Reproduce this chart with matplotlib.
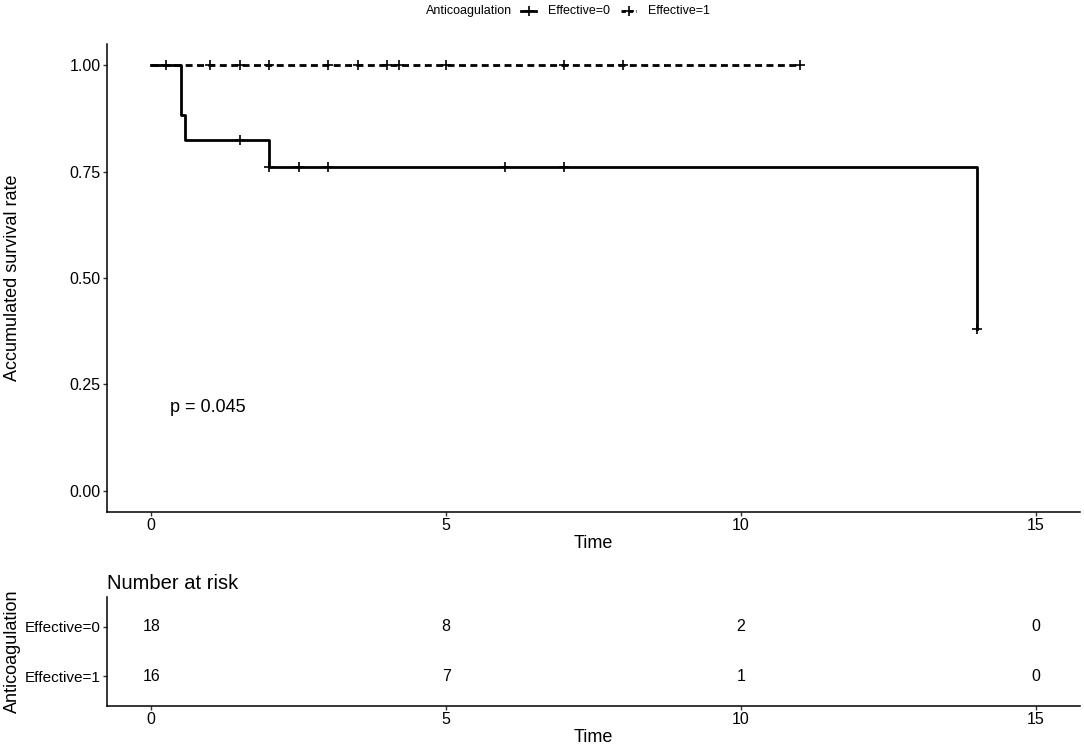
import numpy as np
import matplotlib.pyplot as plt
from matplotlib.lines import Line2D

plt.rcParams['font.family'] = ['Liberation Sans', 'DejaVu Sans']

# step curve, group Effective=0
t0 = [0, 0.5, 0.58, 2.0, 14.0]
s0 = [1.0, 0.882, 0.824, 0.762, 0.381]
cens_t0 = [1.5, 2.0, 2.5, 3.0, 6.0, 7.0, 14.0]
# group Effective=1 (no events)
t1 = [0, 11.0]
s1 = [1.0, 1.0]
cens_t1 = [0.25, 1.0, 1.5, 2.0, 3.0, 3.5, 4.0, 4.2, 5.0, 7.0, 8.0, 11.0]

risk_times = [0, 5, 10, 15]
risk0 = [18, 8, 2, 0]
risk1 = [16, 7, 1, 0]
groups = ['Effective=0', 'Effective=1']


def surv_at(ts, ss, t):
    idx = np.searchsorted(ts, t, side='right') - 1
    return np.array(ss)[idx]


def style_axis(a, size=11.5):
    for s in ['top', 'right']:
        a.spines[s].set_visible(False)
    for s in ['left', 'bottom']:
        a.spines[s].set_linewidth(1.1)
    a.tick_params(labelsize=size, length=3, width=1.0, colors='#333333',
                  labelcolor='black', pad=1.5)


W, H = 1084, 748
fig = plt.figure(figsize=(W / 100, H / 100), dpi=100)
ax = fig.add_axes([107 / W, 236 / H, 973 / W, 468 / H])

lw = 2.0
dash = (2.5, 1.6)
ax.step(t0, s0, where='post', color='black', lw=lw)
ax.plot(cens_t0, surv_at(t0, s0, cens_t0), ls='none', marker='+',
        ms=7, mew=1.2, color='black')
ax.step(t1, s1, where='post', color='black', lw=lw, dashes=dash)
ax.plot(cens_t1, surv_at(t1, s1, cens_t1), ls='none', marker='+',
        ms=7, mew=1.2, color='black')

ax.set_xlim(-0.75, 15.75)
ax.set_ylim(-0.05, 1.05)
ax.set_xticks([0, 5, 10, 15])
ax.set_yticks([0, 0.25, 0.5, 0.75, 1.0])
ax.set_yticklabels(['0.00', '0.25', '0.50', '0.75', '1.00'])
ax.set_xlabel('Time', fontsize=13, labelpad=1)
ax.set_ylabel('Accumulated survival rate', fontsize=13)
ax.yaxis.set_label_coords(-0.088, 0.5)
ax.text(0.32, 0.195, 'p = 0.045', fontsize=13, ha='left', va='center')
style_axis(ax)

# legend at top, laid out by hand like ggplot's horizontal legend
ly = 1 - 11 / H
fig.text(426 / W, ly, 'Anticoagulation', fontsize=9, ha='left', va='center')
key_x = [(521, 536), (621, 636)]
key_dash = [None, (1.6, 1.0)]
for (x0, x1), d, lab in zip(key_x, key_dash, groups):
    ln = Line2D([x0 / W, x1 / W], [ly, ly], transform=fig.transFigure,
                color='black', lw=lw)
    if d is not None:
        ln.set_dashes(d)
    fig.add_artist(ln)
    fig.add_artist(Line2D([(x0 + x1) / 2 / W], [ly], transform=fig.transFigure,
                          color='black', marker='+', ms=7, mew=1.2, ls='none'))
    fig.text((x1 + 12) / W, ly, lab, fontsize=9, ha='left', va='center')

# risk table
rt = fig.add_axes([107 / W, 42 / H, 973 / W, 109 / H])
for i, tm in enumerate(risk_times):
    rt.text(tm, 2, str(risk0[i]), ha='center', va='center', fontsize=11.5)
    rt.text(tm, 1, str(risk1[i]), ha='center', va='center', fontsize=11.5)
rt.set_xlim(-0.75, 15.75)
rt.set_ylim(0.4, 2.6)
rt.set_xticks([0, 5, 10, 15])
rt.set_yticks([2, 1])
rt.set_yticklabels(groups)
rt.set_xlabel('Time', fontsize=13, labelpad=1)
rt.set_ylabel('Anticoagulation', fontsize=13)
rt.yaxis.set_label_coords(-0.088, 0.5)
rt.set_title('Number at risk', fontsize=14.5, loc='left', pad=6)
style_axis(rt)
rt.tick_params(axis='y', labelsize=11)

fig.savefig('out.png', dpi=100)
